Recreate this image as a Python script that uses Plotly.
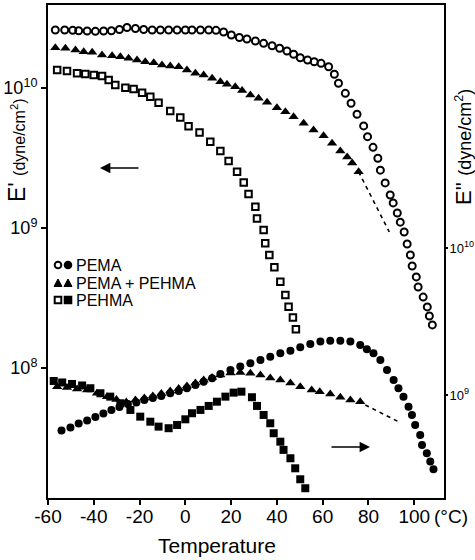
import plotly.graph_objects as go

# ---------------- data ----------------
# E' (storage modulus, left axis, dyne/cm^2)
pema_T_e1 = [-56.8, -52.7, -49.2, -46.6, -42.9, -39.3, -35.7, -32.3, -28.8, -25.5, -21.8, -18.2,
             -14.5, -10.9, -7.3, -3.6, 0.0, 2.9, 6.6, 10.2, 13.4, 16.7, 20.1, 23.6, 26.9, 30.6,
             34.2, 37.9, 41.2, 44.4, 47.3, 50.2, 53.4, 56.3, 59.3, 62.6, 65.1, 66.9, 69.9, 72.4,
             75.0, 77.9, 79.6, 82.0, 84.1, 85.2, 87.3, 89.5, 90.8, 92.6, 93.9, 95.6, 96.9, 98.3,
             99.1, 100.9, 101.7, 103.9, 105.7, 106.6, 107.9]
pema_E1 = [2.596e10, 2.596e10, 2.583e10, 2.564e10, 2.552e10, 2.539e10, 2.552e10, 2.564e10, 2.618e10,
           2.704e10, 2.661e10, 2.618e10, 2.596e10, 2.596e10, 2.596e10, 2.596e10, 2.596e10, 2.596e10,
           2.596e10, 2.596e10, 2.583e10, 2.512e10, 2.393e10, 2.296e10, 2.239e10, 2.167e10, 2.086e10,
           2.005e10, 1.923e10, 1.837e10, 1.741e10, 1.645e10, 1.585e10, 1.541e10, 1.500e10, 1.419e10,
           1.253e10, 1.081e10, 9.16e9, 7.78e9, 6.49e9, 5.36e9, 4.49e9, 3.77e9, 3.15e9, 2.59e9,
           2.10e9, 1.72e9, 1.51e9, 1.28e9, 1.10e9, 9.36e8, 7.69e8, 6.41e8, 5.35e8, 4.47e8, 3.79e8,
           3.21e8, 2.73e8, 2.35e8, 2.03e8]

blend_T_e1 = [-56.8, -52.4, -48.0, -44.4, -40.7, -36.4, -32.0, -28.4, -24.8, -21.1, -17.5, -13.8,
              -10.2, -6.6, -2.9, 0.7, 4.4, 8.0, 11.7, 15.3, 18.2, 21.8, 24.8, 28.4, 32.0, 35.7,
              40.0, 43.7, 47.3, 51.7, 56.0, 60.4, 64.1, 67.7, 70.7, 72.9, 75.7]
blend_E1 = [1.941e10, 1.923e10, 1.867e10, 1.816e10, 1.799e10, 1.722e10, 1.702e10, 1.675e10, 1.631e10,
            1.585e10, 1.541e10, 1.517e10, 1.459e10, 1.436e10, 1.419e10, 1.345e10, 1.274e10, 1.239e10,
            1.173e10, 1.109e10, 1.062e10, 1.021e10, 9.59e9, 8.91e9, 8.44e9, 7.90e9, 7.23e9, 6.78e9,
            6.24e9, 5.60e9, 5.01e9, 4.56e9, 4.03e9, 3.55e9, 3.21e9, 2.91e9, 2.52e9]
blend_T_e1_ext = [75.7, 89.1]
blend_E1_ext = [2.52e9, 9.36e8]

pehma_T_e1 = [-56.0, -51.7, -47.3, -43.7, -40.0, -36.4, -33.5, -30.6, -26.2, -22.6, -18.9, -15.3,
              -11.7, -6.6, -2.2, 1.4, 6.2, 10.9, 15.3, 18.9, 22.6, 25.5, 27.6, 30.6, 31.3, 34.2,
              34.9, 36.7, 38.9, 41.5, 43.7, 45.1, 47.0, 48.3]
pehma_E1 = [1.345e10, 1.322e10, 1.274e10, 1.259e10, 1.239e10, 1.218e10, 1.140e10, 1.050e10, 1.005e10,
            9.84e9, 9.25e9, 8.67e9, 7.85e9, 6.85e9, 6.15e9, 5.32e9, 4.81e9, 4.13e9, 3.55e9, 3.01e9,
            2.52e9, 2.11e9, 1.75e9, 1.42e9, 1.17e9, 9.68e8, 7.78e8, 6.41e8, 5.24e8, 4.13e8, 3.32e8,
            2.74e8, 2.29e8, 1.89e8]

# E'' (loss modulus, right axis, dyne/cm^2)
pema_T_e2 = [-54.1, -50.2, -46.6, -42.9, -39.3, -35.8, -32.3, -28.8, -25.1, -21.4, -17.9, -14.2,
             -10.5, -6.6, -2.9, 0.7, 4.4, 8.0, 11.7, 15.3, 19.7, 24.0, 28.4, 32.8, 37.1, 41.5,
             45.9, 50.2, 54.6, 59.0, 63.3, 67.7, 72.1, 76.4, 79.3, 82.2, 85.2, 88.1, 91.0, 93.1,
             95.3, 97.5, 99.0, 100.4, 102.6, 103.4, 105.5, 107.0, 108.4]
pema_E2 = [5.74e8, 6.01e8, 6.40e8, 6.71e8, 7.08e8, 7.48e8, 7.91e8, 8.28e8, 8.68e8, 8.89e8, 9.25e8,
           9.55e8, 9.85e8, 1.027e9, 1.064e9, 1.111e9, 1.17e9, 1.231e9, 1.299e9, 1.39e9, 1.48e9,
           1.559e9, 1.644e9, 1.731e9, 1.823e9, 1.922e9, 2.0e9, 2.11e9, 2.22e9, 2.31e9, 2.34e9,
           2.34e9, 2.31e9, 2.19e9, 2.05e9, 1.92e9, 1.73e9, 1.48e9, 1.265e9, 1.111e9, 9.73e8,
           8.32e8, 7.31e8, 6.25e8, 5.35e8, 4.57e8, 4.01e8, 3.52e8, 3.12e8]

blend_T_e2 = [-56.0, -51.7, -47.3, -42.9, -38.6, -34.2, -30.1, -25.8, -21.8, -17.9, -14.2, -10.5,
              -6.6, -2.9, 0.7, 4.4, 8.0, 11.7, 15.3, 19.7, 24.0, 28.4, 32.8, 37.1, 41.5, 45.9,
              50.2, 55.2, 58.7, 63.3, 67.7, 72.1, 76.4]
blend_E2 = [1.139e9, 1.125e9, 1.099e9, 1.081e9, 1.027e9, 9.74e8, 9.32e8, 8.96e8, 9.25e8, 9.54e8,
            9.84e8, 1.024e9, 1.065e9, 1.107e9, 1.151e9, 1.207e9, 1.265e9, 1.315e9, 1.368e9,
            1.412e9, 1.423e9, 1.405e9, 1.368e9, 1.305e9, 1.265e9, 1.207e9, 1.139e9, 1.081e9,
            1.053e9, 1.016e9, 9.65e8, 9.25e8, 9.0e8]
blend_T_e2_ext = [78.6, 93.1]
blend_E2_ext = [8.55e8, 6.58e8]

pehma_T_e2 = [-57.5, -53.8, -49.5, -45.1, -41.5, -37.1, -32.8, -28.4, -24.0, -19.7, -15.3, -11.7,
              -7.3, -3.6, 0.0, 2.9, 6.6, 10.2, 13.8, 17.5, 21.1, 24.5, 29.1, 31.3, 34.2, 37.1,
              38.6, 41.5, 42.9, 45.9, 48.0, 50.2, 52.4]
pehma_E2 = [1.245e9, 1.216e9, 1.188e9, 1.160e9, 1.111e9, 1.027e9, 9.74e8, 8.78e8, 7.91e8, 7.12e8,
            6.58e8, 6.09e8, 5.94e8, 6.25e8, 6.83e8, 7.51e8, 7.91e8, 8.42e8, 9.0e8, 9.74e8, 1.037e9,
            1.053e9, 9.65e8, 8.42e8, 7.31e8, 6.42e8, 5.49e8, 4.81e8, 4.23e8, 3.71e8, 3.17e8,
            2.67e8, 2.32e8]

x_ticks = [-60, -40, -20, 0, 20, 40, 60, 80, 100]
x_ticklabels = ["-60", "-40", "-20", "0", "20", "40", "60", "80", "100"]
y1_ticks = [1e8, 1e9, 1e10]
y1_ticklabels = ["10<sup>8</sup>", "10<sup>9</sup>", "10<sup>10</sup>"]
y2_ticks = [1e9, 1e10]
y2_ticklabels = ["10<sup>9</sup>", "10<sup>10</sup>"]
legend_labels = ["PEMA", "PEMA + PEHMA", "PEHMA"]

# ---------------- figure ----------------
FONT = "Liberation Sans, Arial, sans-serif"
W, H = 475, 560
L, R, T, B = 48, 31, 5, 62
PW, PH = W - L - R, H - T - B


def px(x):
    return (x - L) / PW


def py(y):
    return (H - B - y) / PH


fig = go.Figure()

fig.add_trace(go.Scatter(x=pema_T_e1, y=pema_E1, mode="markers", yaxis="y",
                         marker=dict(symbol="circle-open", size=7, color="black",
                                     line=dict(width=2, color="black"))))
fig.add_trace(go.Scatter(x=blend_T_e1, y=blend_E1, mode="markers", yaxis="y",
                         marker=dict(symbol="triangle-up", size=9, color="black")))
fig.add_trace(go.Scatter(x=blend_T_e1_ext, y=blend_E1_ext, mode="lines", yaxis="y",
                         line=dict(color="black", width=1.6, dash="4px,4px")))
fig.add_trace(go.Scatter(x=pehma_T_e1, y=pehma_E1, mode="markers", yaxis="y",
                         marker=dict(symbol="square-open", size=6.5, color="black",
                                     line=dict(width=2, color="black"))))

fig.add_trace(go.Scatter(x=pema_T_e2, y=pema_E2, mode="markers", yaxis="y2",
                         marker=dict(symbol="circle", size=8, color="black")))
fig.add_trace(go.Scatter(x=blend_T_e2, y=blend_E2, mode="markers", yaxis="y2",
                         marker=dict(symbol="triangle-up", size=9, color="black")))
fig.add_trace(go.Scatter(x=blend_T_e2_ext, y=blend_E2_ext, mode="lines", yaxis="y2",
                         line=dict(color="black", width=1.6, dash="4px,4px")))
fig.add_trace(go.Scatter(x=pehma_T_e2, y=pehma_E2, mode="markers", yaxis="y2",
                         marker=dict(symbol="square", size=8, color="black")))

axis_common = dict(showgrid=False, zeroline=False, showline=True, linecolor="black",
                   linewidth=2, ticks="outside", tickwidth=1.5, tickcolor="black",
                   automargin=False)

fig.update_layout(
    width=W, height=H,
    margin=dict(l=L, r=R, t=T, b=B, pad=0, autoexpand=False),
    paper_bgcolor="white", plot_bgcolor="white",
    showlegend=False,
    font=dict(family=FONT, color="black"),
    xaxis=dict(range=[-60, 113], tickvals=x_ticks, ticktext=x_ticklabels, mirror=True,
               ticklen=5, ticklabelstandoff=-5,
               tickfont=dict(family=FONT, size=19, color="black"), **axis_common),
    yaxis=dict(type="log", range=[7.071, 10.593], tickvals=y1_ticks, ticktext=y1_ticklabels,
               ticklen=5, tickfont=dict(family=FONT, size=18, color="black"), **axis_common),
    yaxis2=dict(type="log", range=[8.299, 11.653], tickvals=y2_ticks, ticktext=y2_ticklabels,
                overlaying="y", side="right", ticklen=2, ticklabelstandoff=-1,
                tickfont=dict(family=FONT, size=13, color="black"), **axis_common),
)

ann = []
# axis titles
ann.append(dict(xref="paper", yref="paper", x=px(17), y=py(151), xanchor="center",
                yanchor="middle", textangle=-90,
                text="E' <span style='font-size:16px'>(dyne/cm<sup>2</sup>)</span>",
                showarrow=False, font=dict(family=FONT, size=23, color="black")))
ann.append(dict(xref="paper", yref="paper", x=px(464), y=py(147), xanchor="center",
                yanchor="middle", textangle=-90,
                text="E'' <span style='font-size:18px'>(dyne/cm<sup>2</sup>)</span>",
                showarrow=False, font=dict(family=FONT, size=22, color="black")))
ann.append(dict(xref="paper", yref="paper", x=px(217), y=py(545), xanchor="center",
                yanchor="middle", text="Temperature",
                showarrow=False, font=dict(family=FONT, size=21, color="black")))
ann.append(dict(xref="paper", yref="paper", x=px(432), y=py(516), xanchor="left",
                yanchor="middle", text="(°C)", showarrow=False,
                font=dict(family=FONT, size=19, color="black")))
# arrows
ann.append(dict(xref="paper", yref="paper", x=px(100), y=py(168), ax=40, ay=0, text="",
                showarrow=True, arrowhead=2, arrowsize=1.3, arrowwidth=1.6, arrowcolor="black"))
ann.append(dict(xref="paper", yref="paper", x=px(370), y=py(447), ax=-40, ay=0, text="",
                showarrow=True, arrowhead=2, arrowsize=1.3, arrowwidth=1.6, arrowcolor="black"))

# legend text
leg_y = [265, 283, 300]
for lab, yy in zip(legend_labels, leg_y):
    ann.append(dict(xref="paper", yref="paper", x=px(74), y=py(yy), xanchor="left",
                    yanchor="middle", text=lab, showarrow=False,
                    font=dict(family=FONT, size=16, color="black")))
fig.update_layout(annotations=ann)

# legend symbols (layout shapes in pixel positions)
shapes = []
r = 3.3
def circ(cx, cy, filled):
    return dict(type="circle", xref="paper", yref="paper",
                x0=px(cx - r), x1=px(cx + r), y0=py(cy + r), y1=py(cy - r),
                line=dict(color="black", width=2),
                fillcolor="black" if filled else "white")
def sq(cx, cy, filled):
    return dict(type="rect", xref="paper", yref="paper",
                x0=px(cx - r), x1=px(cx + r), y0=py(cy + r), y1=py(cy - r),
                line=dict(color="black", width=2),
                fillcolor="black" if filled else "white")
def tri(cx, cy):
    x0, x1, xm = px(cx - 4), px(cx + 4), px(cx)
    y0, y1 = py(cy + 3.5), py(cy - 4)
    return dict(type="path", xref="paper", yref="paper",
                path=f"M {x0} {y0} L {x1} {y0} L {xm} {y1} Z",
                fillcolor="black", line=dict(color="black", width=1))
shapes += [circ(58, 265, False), circ(68, 265, True),
           tri(58, 283), tri(68, 283),
           sq(58, 300, False), sq(68, 300, True)]
fig.update_layout(shapes=shapes)

fig.write_html("out.html", config={"displayModeBar": False},
               post_script="document.body.style.margin='0';document.body.style.padding='0';"
                           "document.body.style.overflow='hidden';")
